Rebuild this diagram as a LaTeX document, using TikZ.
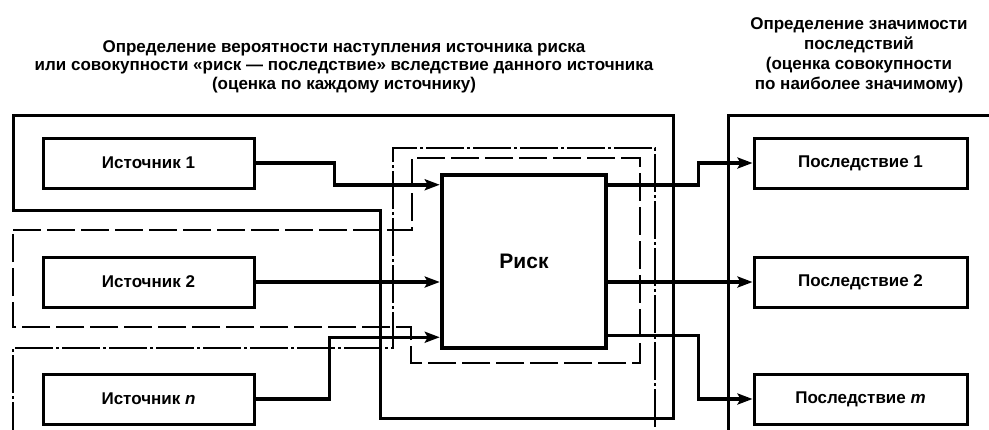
\documentclass[tikz,border=0pt]{standalone}
\usepackage{fontspec}
\setmainfont{Liberation Sans}
\usetikzlibrary{arrows.meta, positioning}

\begin{document}
\begin{tikzpicture}[
  x=1pt, y=-1pt,
  box/.style={rectangle, draw=black, line width=3pt, minimum width=211pt, minimum height=50pt, inner sep=0pt, font=\fontsize{17}{20}\selectfont\bfseries},
  riskbox/.style={rectangle, draw=black, line width=4.5pt, minimum width=164pt, minimum height=173pt, inner sep=0pt, font=\fontsize{21}{24}\selectfont\bfseries},
  title/.style={align=center, inner sep=0pt, font=\fontsize{17}{18.5}\selectfont\bfseries},
  frame/.style={line width=3pt},
  dashfr/.style={line width=2.6pt, dash pattern=on 28pt off 6pt},
  dotfr/.style={line width=2.4pt, dash pattern=on 38pt off 3pt on 3pt off 3pt},
  arrow/.style={line width=3.5pt, -{Stealth[length=15pt, width=11pt, inset=3pt]}}
]
\clip (0,0) rectangle (989,429);

% titles
\node[title] (ttlsrc) at (344,66.5) {Определение вероятности наступления источника риска\\или совокупности «риск — последствие» вследствие данного источника\\(оценка по каждому источнику)};
\node[title, font=\fontsize{17}{20}\selectfont\bfseries] (ttlcons) at (859,55) {Определение значимости\\последствий\\(оценка совокупности\\по наиболее значимому)};

% frames
\draw[frame] (13,115) -- (673,115) -- (673,418) -- (380,418) -- (380,210) -- (13,210) -- cycle;
\draw[dashfr] (13,230) -- (412,230) -- (412,158) -- (640,158) -- (640,363) -- (411,363) -- (411,327) -- (13,327) -- cycle;
\draw[dotfr] (13,440) -- (13,348) -- (393,348) -- (393,148) -- (655,148) -- (655,440);
\draw[frame] (728,440) -- (728,115) -- (1000,115);

% sources
\node[box] (src1) at (148.5,163) {Источник 1};
\node[box, below=66pt of src1] (src2) {Источник 2};
\node[box, below=64pt of src2] (srcn) {Источник \textit{n}};

% risk
\node[riskbox] (risk) at (524,261.5) {Риск};
\coordinate (in1) at ([yshift=-12pt]risk.north west);
\coordinate (in3) at ([yshift=13pt]risk.south west);
\coordinate (out1) at ([yshift=-12pt]risk.north east);
\coordinate (out3) at ([yshift=15pt]risk.south east);

% consequences
\node[box, minimum width=213pt] (cons1) at (860.5,163) {Последствие 1};
\node[box, minimum width=213pt, below=66pt of cons1] (cons2) {Последствие 2};
\node[box, minimum width=213pt, below=64pt of cons2] (consm) {Последствие \textit{m}};

\draw[arrow] (src1.east) -- ++(79,0) |- (in1);
\draw[arrow] (src2.east) -- (src2.east -| risk.west);
\draw[arrow] (srcn.east) -- ++(74,0) |- (in3);
\draw[arrow] (out1) -- ++(90,0) |- (cons1.west);
\draw[arrow] (risk.east |- cons2.west) -- (cons2.west);
\draw[arrow] (out3) -- ++(90,0) |- (consm.west);

\end{tikzpicture}
\end{document}
